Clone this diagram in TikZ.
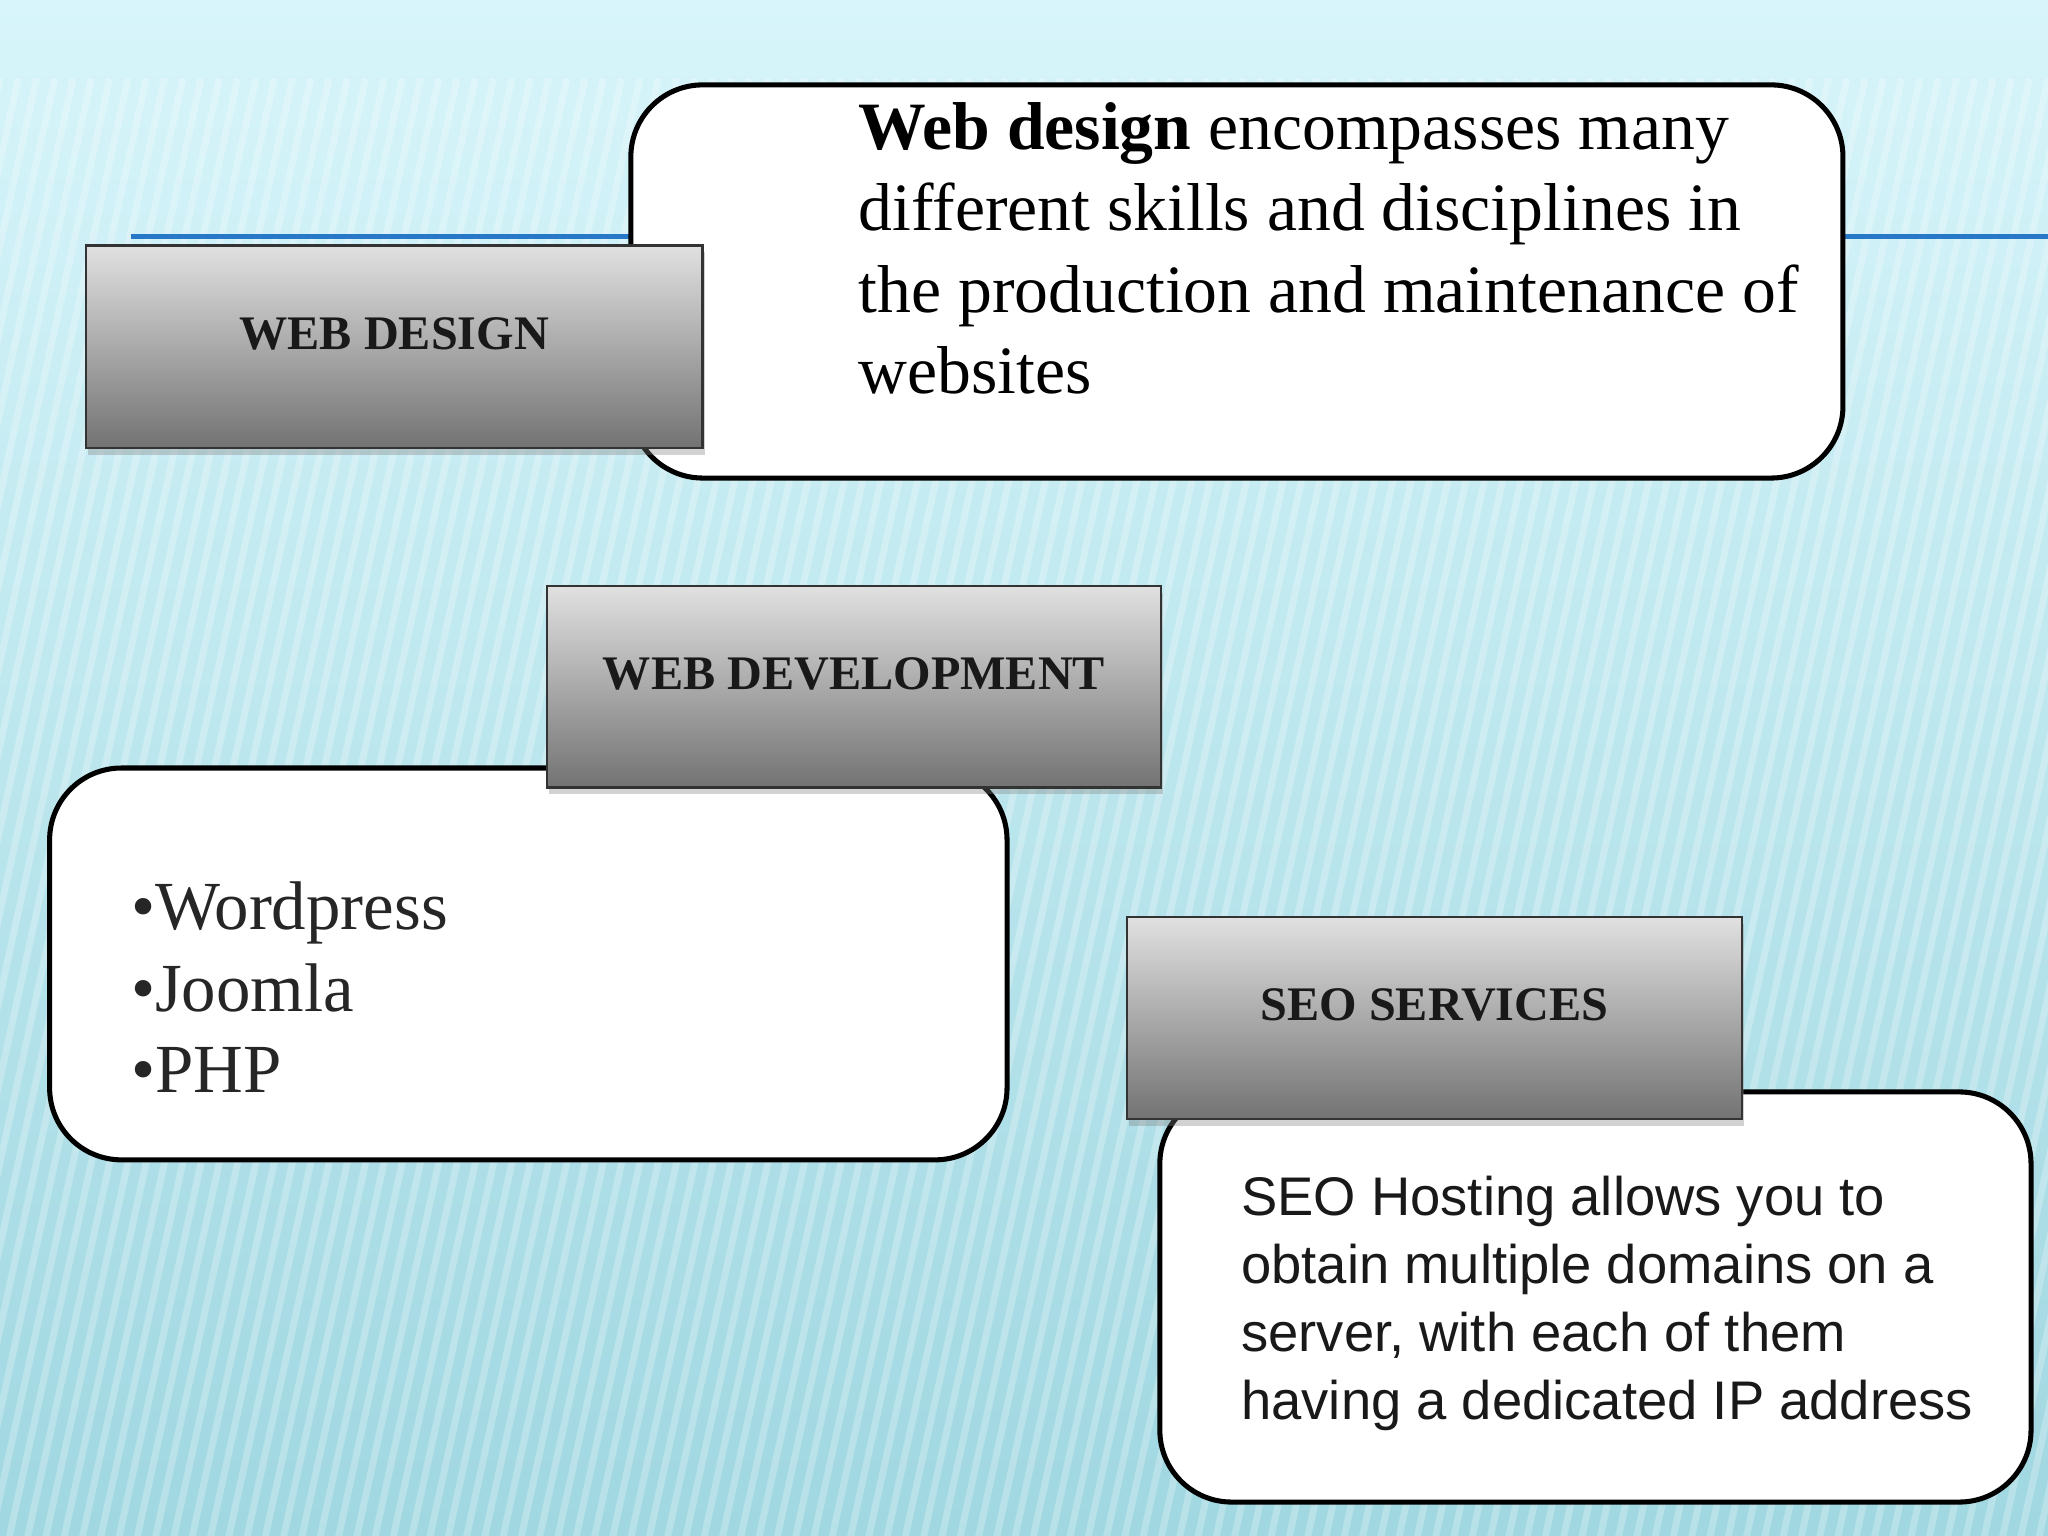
\documentclass[tikz,border=0pt]{standalone}
\usepackage{fontspec}
\setmainfont{Liberation Serif}
\setsansfont{Liberation Sans}
\usetikzlibrary{shadows}
\definecolor{bgA}{RGB}{215,245,250}
\definecolor{bgB}{RGB}{160,215,225}
\definecolor{lineblue}{RGB}{40,120,200}
\tikzset{
 x=0.02cm,y=-0.02cm,
 whitebox/.style={draw=black,line width=2.2pt,fill=white,rounded corners=1.1cm},
 graybox/.style={draw=black!80,line width=1pt,top color=black!12,bottom color=black!55,drop shadow={opacity=0.35,shadow xshift=1pt,shadow yshift=-3pt}},
 lbl/.style={font=\fontsize{21}{26}\selectfont\bfseries,text=black!90,yshift=0.2cm}
}
\begin{document}
\begin{tikzpicture}
\useasboundingbox (0,0) rectangle (1568,1176);
\shade[top color=bgA,bottom color=bgB] (0,0) rectangle (1568,1176);
\begin{scope}
\clip (0,60) rectangle (1568,1176);
\foreach \i in {0,14,...,1900} \draw[white,opacity=0.25,line width=3pt] (\i-250,1200) -- (\i,60);
\end{scope}
\draw[lineblue,line width=2pt] (100,181) -- (483,181);
\draw[lineblue,line width=2pt] (1411,181) -- (1568,181);
% white boxes
\draw[whitebox] (483,65) rectangle (1411,366);
\draw[whitebox] (38,588) rectangle (771,888);
\draw[whitebox] (888,836) rectangle (1555,1150);
% gray boxes
\node[graybox,minimum width=9.44cm,minimum height=3.1cm,anchor=north west] (wd) at (65,187) {};
\node[lbl] at (wd.center) {WEB DESIGN};
\node[graybox,minimum width=9.4cm,minimum height=3.08cm,anchor=north west] (dev) at (418,448) {};
\node[lbl] at (dev.center) {WEB DEVELOPMENT};
\node[graybox,minimum width=9.42cm,minimum height=3.1cm,anchor=north west] (seo) at (862,701) {};
\node[lbl] at (seo.center) {SEO SERVICES};
% texts
\node[anchor=north west,align=left,inner sep=0,font=\fontsize{29.5}{35.5}\selectfont] (t1) at (657,78)
 {\textbf{Web design} encompasses many\\different skills and disciplines in\\the production and maintenance of\\websites};
\node[anchor=north west,align=left,inner sep=0,font=\fontsize{30}{35.5}\selectfont,text=black!85] (t2) at (100,675)
 {•Wordpress\\•Joomla\\•PHP};
\node[anchor=north west,align=left,inner sep=0,font=\sffamily\fontsize{23.7}{29.6}\selectfont,text=black!90] (t3) at (950,900)
 {SEO Hosting allows you to\\obtain multiple domains on a\\server, with each of them\\having a dedicated IP address};
\end{tikzpicture}
\end{document}
